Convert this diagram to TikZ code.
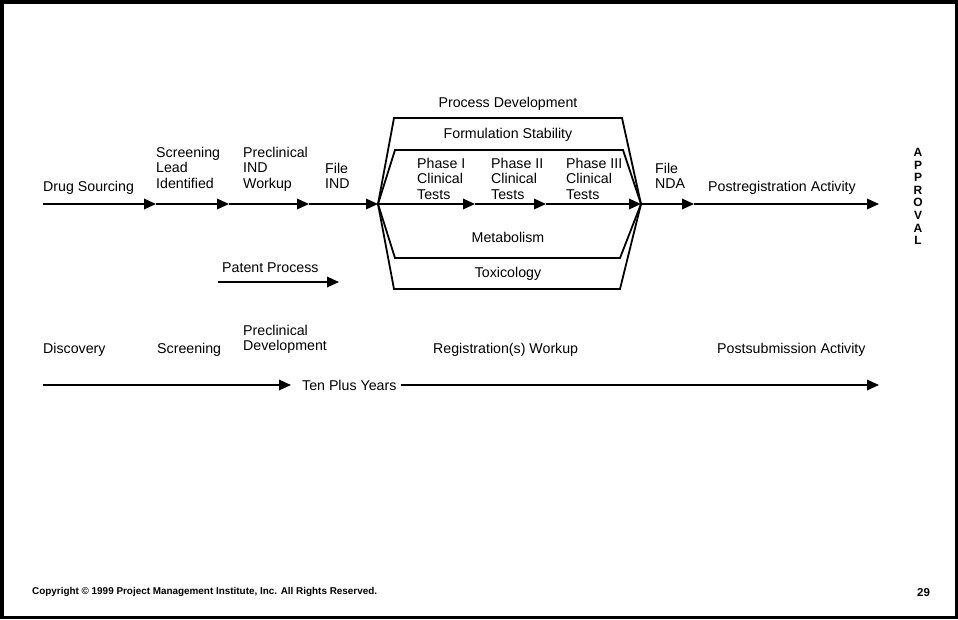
\documentclass[tikz,border=0pt]{standalone}
\usepackage{fontspec}
\setmainfont{Liberation Sans}
\usetikzlibrary{positioning, arrows.meta}

\begin{document}
\begin{tikzpicture}[x=1pt, y=-1pt,
    lbl/.style={anchor=north west, inner sep=0pt, align=left,
                font=\fontsize{14.2}{15.5}\selectfont},
    ctr/.style={anchor=north, inner sep=0pt,
                font=\fontsize{14.2}{15.5}\selectfont},
    flow/.style={line width=1.8pt, -{Triangle[length=12pt, width=10.5pt]}},
    hexa/.style={line width=1.8pt, line join=miter}]
\useasboundingbox (0,0) rectangle (958,619);
\draw[line width=3.5pt] (1.75,1.75) rectangle (956.25,617.25);

% main flow line
\coordinate (start)   at (43,204);
\coordinate (screen)  at (156,204);
\coordinate (precl)   at (229,204);
\coordinate (ind)     at (309,204);
\coordinate (hexL)    at (378,204);
\coordinate (ph1)     at (475,204);
\coordinate (ph2)     at (546,204);
\coordinate (hexR)    at (641,204);
\coordinate (nda)     at (694,204);
\coordinate (approve) at (879,204);
\foreach \a/\b in {start/screen, screen/precl, precl/ind, ind/hexL,
                   hexL/ph1, ph1/ph2, ph2/hexR, hexR/nda, nda/approve}
    \draw[flow] (\a) -- (\b);

% registration hexagons
\draw[hexa] (hexL) -- (394,118) -- (622,118) -- (hexR)
            -- (620,289) -- (394,289) -- cycle;
\draw[hexa] (hexL) -- (395,150) -- (623,150) -- (hexR)
            -- (620,258) -- (395,258) -- cycle;

% labels above the line
\node[lbl] (drug)   at (43,181)  {Drug Sourcing};
\node[lbl] (lead)   at (156,147) {Screening\\Lead\\Identified};
\node[lbl] (workup) at (243,147) {Preclinical\\IND\\Workup};
\node[lbl] (fileind) at (325,163) {File\\IND};
\node[lbl] (phaseA) at (417,158) {Phase I\\Clinical\\Tests};
\node[lbl] (phaseB) at (491,158) {Phase II\\Clinical\\Tests};
\node[lbl] (phaseC) at (566,158) {Phase III\\Clinical\\Tests};
\node[lbl] (filenda) at (655,163) {File\\NDA};
\node[lbl] (postreg) at (708,181) {Postregistration Activity};
\node[ctr] (procdev) at (508,97)  {Process Development};
\node[ctr] (formul)  at (508,128) {Formulation Stability};
\node[ctr] (metab)   at (508,232) {Metabolism};
\node[ctr] (toxic)   at (508,267) {Toxicology};
\node[anchor=north, inner sep=0pt, align=center,
      font=\bfseries\fontsize{12}{12.6}\selectfont] (approval) at (918,148)
      {A\\P\\P\\R\\O\\V\\A\\L};

% patent process
\node[lbl] (patent) at (222,263) {Patent Process};
\coordinate (patA) at (218,282);
\coordinate (patB) at (339,282);
\draw[flow] (patA) -- (patB);

% phases
\node[lbl] (discov)  at (43,343)  {Discovery};
\node[lbl] (scrphase) at (157,343) {Screening};
\node[lbl] (preclph) at (243,325) {Preclinical\\Development};
\node[lbl] (regwork) at (433,343) {Registration(s) Workup};
\node[lbl] (postsub) at (717,343) {Postsubmission Activity};

% time line
\node[lbl] (years) at (302,380) {Ten Plus Years};
\coordinate (yearsA) at (43,385);
\coordinate (yearsB) at (879,385);
\draw[flow] (yearsA) -- ([xshift=-11pt]years.west |- yearsA);
\draw[flow] ([xshift=4pt]years.east |- yearsB) -- (yearsB);

% footer
\node[anchor=north west, inner sep=0pt, font=\bfseries\fontsize{9.9}{11}\selectfont]
    (copy) at (32,587) {Copyright \textcopyright\ 1999 Project Management Institute, Inc. All Rights Reserved.};
\node[anchor=north west, inner sep=0pt, font=\bfseries\fontsize{11.5}{13}\selectfont]
    (page) at (917,588) {29};
\end{tikzpicture}
\end{document}
